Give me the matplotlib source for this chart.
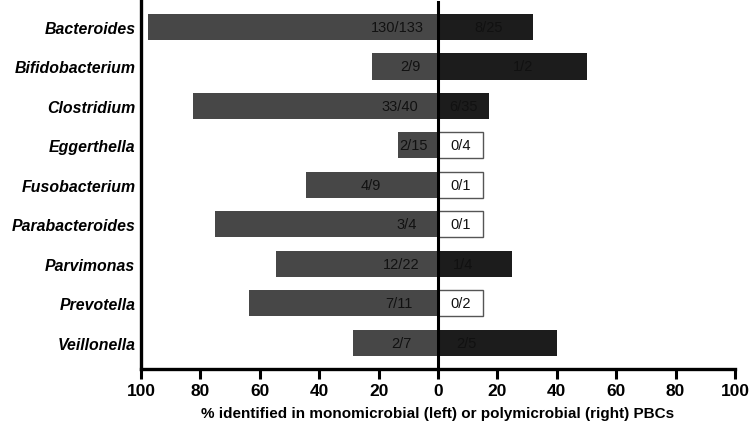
import matplotlib.pyplot as plt
import numpy as np

# genera, top to bottom
genera = ['Bacteroides', 'Bifidobacterium', 'Clostridium', 'Eggerthella', 'Fusobacterium',
          'Parabacteroides', 'Parvimonas', 'Prevotella', 'Veillonella']

# % identified in monomicrobial PBCs (left side)
mono_pct = [97.7, 22.2, 82.5, 13.3, 44.4, 75.0, 54.5, 63.6, 28.6]
mono_lbl = ['130/133', '2/9', '33/40', '2/15', '4/9', '3/4', '12/22', '7/11', '2/7']

# % identified in polymicrobial PBCs (right side)
poly_pct = [32.0, 50.0, 17.1, 0, 0, 0, 25.0, 0, 40.0]
poly_lbl = ['8/25', '1/2', '6/35', '0/4', '0/1', '0/1', '1/4', '0/2', '2/5']

# where the count labels sit (layout only)
mono_lbl_x = [-13.8, -9.4, -13.0, -8.4, -22.5, -10.7, -12.4, -13.0, -12.4]
poly_lbl_x = [17.0, 28.5, 8.7, 7.5, 7.5, 7.5, 8.4, 7.5, 9.7]

plt.rcParams['font.family'] = ['Liberation Sans', 'DejaVu Sans']

fig = plt.figure(figsize=(7.5, 4.27), dpi=100)
ax = fig.add_axes([0.188, 0.1335, 0.792, 0.862])

y = np.arange(len(genera))
h = 0.66

ax.barh(y, -np.array(mono_pct), height=h, color='#474747', zorder=2)
for i, v in enumerate(poly_pct):
    if v > 0:
        ax.barh(y[i], v, height=h, color='#1c1c1c', zorder=2)
    else:
        # empty box for zero counts
        ax.barh(y[i], 15, height=h, color='white', edgecolor='#555555', linewidth=1, zorder=2)

for i in range(len(genera)):
    ax.text(mono_lbl_x[i], y[i], mono_lbl[i], ha='center', va='center', fontsize=10.5, color='#111111', zorder=3)
    ax.text(poly_lbl_x[i], y[i], poly_lbl[i], ha='center', va='center', fontsize=10.5, color='#111111', zorder=3)

ax.axvline(0, color='black', linewidth=2.2, zorder=4)

ax.set_xlim(-100, 100)
ax.set_ylim(8.66, -0.66)
ax.set_xticks(np.arange(-100, 101, 20))
ax.set_xticklabels([str(abs(t)) for t in range(-100, 101, 20)], fontsize=12.5, fontweight='bold')
ax.set_yticks(y)
ax.set_yticklabels(genera, fontsize=11.4, fontweight='bold', fontstyle='italic')
ax.tick_params(axis='y', length=0, pad=4)
ax.tick_params(axis='x', length=7, width=2.2, pad=3)

ax.spines['top'].set_visible(False)
ax.spines['right'].set_visible(False)
ax.spines['left'].set_linewidth(2.4)
ax.spines['bottom'].set_linewidth(2.4)

ax.set_xlabel('% identified in monomicrobial (left) or polymicrobial (right) PBCs',
              fontsize=11, fontweight='bold', labelpad=6)

fig.savefig('out.png', dpi=100)
